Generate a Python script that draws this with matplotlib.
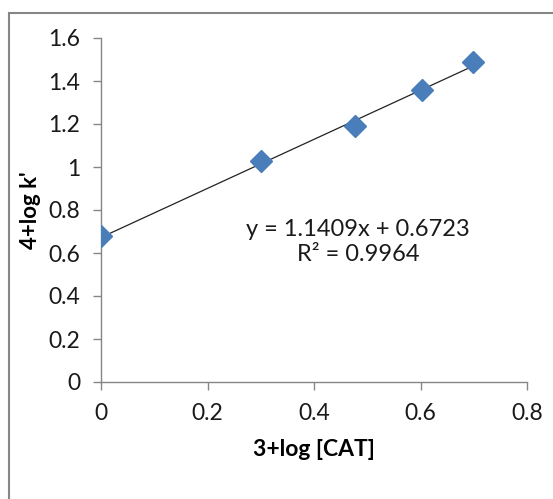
import numpy as np
import matplotlib.pyplot as plt
from matplotlib.patches import Rectangle

# dados
x_cat = [0.0, 0.301, 0.477, 0.602, 0.699]   # 3+log [CAT]
y_k = [0.68, 1.03, 1.19, 1.36, 1.49]        # 4+log k'
slope = 1.1409
intercept = 0.6723
r2 = 0.9964

plt.rcParams['font.family'] = ['Lato', 'DejaVu Sans']

W, H = 553, 499
fig = plt.figure(figsize=(W / 100, H / 100), dpi=100)

# moldura externa (cortada a direita e embaixo)
fig.patches.append(Rectangle((9 / W, -0.1), 1.2, 1 - 13 / H + 0.1,
                             transform=fig.transFigure, fill=False,
                             edgecolor='#868686', linewidth=1.5))

ax = fig.add_axes([101 / W, 1 - 382 / H, (527 - 101) / W, (382 - 38) / H])

# reta de tendencia
xt = np.array([x_cat[0], x_cat[-1]])
ax.plot(xt, slope * xt + intercept, color='#222222', linewidth=0.9, zorder=2)
ax.plot(x_cat, y_k, linestyle='none', marker='D', markersize=11,
        color='#4A7EBB', zorder=3)

ax.set_xlim(0, 0.8)
ax.set_ylim(0, 1.6)
ax.set_xticks([0, 0.2, 0.4, 0.6, 0.8])
ax.set_xticklabels(['0', '0.2', '0.4', '0.6', '0.8'])
ax.set_yticks([0, 0.2, 0.4, 0.6, 0.8, 1.0, 1.2, 1.4, 1.6])
ax.set_yticklabels(['0', '0.2', '0.4', '0.6', '0.8', '1', '1.2', '1.4', '1.6'])

for s in ['top', 'right']:
    ax.spines[s].set_visible(False)
for s in ['left', 'bottom']:
    ax.spines[s].set_color('#868686')
    ax.spines[s].set_linewidth(1.0)
ax.tick_params(direction='out', length=6, width=1.0, color='#868686',
               labelsize=16.5, labelcolor='#1a1a1a', pad=9)

ax.set_xlabel('3+log [CAT]', fontsize=16.5, fontweight='bold', labelpad=11)
ax.yaxis.set_label_coords((41 - 101) / (527 - 101), (382 - 209) / (382 - 38))
ax.set_ylabel("4+log k'", fontsize=16, fontweight='bold',
              bbox=dict(facecolor='white', edgecolor='none', pad=0))

# texto da equacao em coordenadas de dados
ax.text(0.483, 0.651, 'y = 1.1409x + 0.6723\nR² = 0.9964', fontsize=17,
        ha='center', va='center', linespacing=1.2, color='#1a1a1a')

fig.savefig('out.png', dpi=100)
